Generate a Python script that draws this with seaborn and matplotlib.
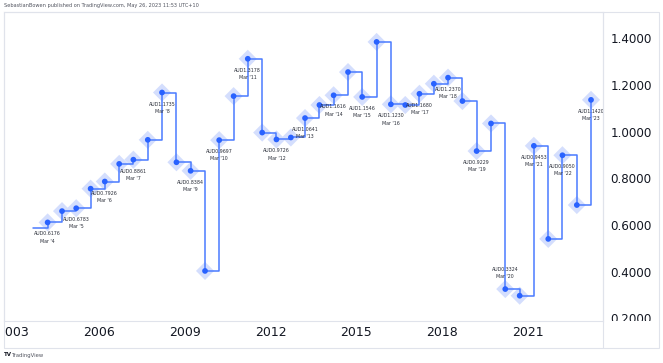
#!/usr/bin/env python3
# -*- coding: utf-8 -*-

import pandas as pd
import matplotlib.pyplot as plt
import matplotlib.transforms as mtransforms
from matplotlib.patches import Rectangle
import seaborn as sns

# ------------------------------------------------------------------------------
# data (half-yearly closes)
# ------------------------------------------------------------------------------

dates = ['2003-09-15', '2004-03-15', '2004-09-15', '2005-03-15', '2005-09-15',
         '2006-03-15', '2006-09-15', '2007-03-15', '2007-09-15', '2008-03-15',
         '2008-09-15', '2009-03-15', '2009-09-15', '2010-03-15', '2010-09-15',
         '2011-03-15', '2011-09-15', '2012-03-15', '2012-09-15', '2013-03-15',
         '2013-09-15', '2014-03-15', '2014-09-15', '2015-03-15', '2015-09-15',
         '2016-03-15', '2016-09-15', '2017-03-15', '2017-09-15', '2018-03-15',
         '2018-09-15', '2019-03-15', '2019-09-15', '2020-03-15', '2020-09-15',
         '2021-03-15', '2021-09-15', '2022-03-15', '2022-09-15', '2023-03-15']

values = [0.592, 0.6176, 0.666, 0.6783, 0.762,
          0.7926, 0.868, 0.8861, 0.971, 1.1735,
          0.875, 0.8384, 0.410, 0.9697, 1.158,
          1.3178, 1.002, 0.9726, 0.981, 1.0641,
          1.120, 1.1616, 1.261, 1.1546, 1.390,
          1.1230, 1.120, 1.1680, 1.211, 1.2370,
          1.137, 0.9229, 1.041, 0.3324, 0.304,
          0.9453, 0.547, 0.9050, 0.692, 1.1420]

# labels sit below the point except these
labels_above = ['2020-03-15']

year_ticks = [2003, 2006, 2009, 2012, 2015, 2018, 2021]
price_ticks = [0.2, 0.4, 0.6, 0.8, 1.0, 1.2, 1.4]

header = 'SebastianBowen published on TradingView.com, May 26, 2023 11:53 UTC+10'

df = pd.DataFrame({'date': pd.to_datetime(dates), 'value': values})

# ------------------------------------------------------------------------------
# figure
# ------------------------------------------------------------------------------

sns.set_style('white')
plt.rcParams['font.family'] = ['DejaVu Sans']

W, H = 663, 363
fig = plt.figure(figsize=(W / 100, H / 100), dpi=100)

def px_rect(x0, y0, x1, y1):
    return [x0 / W, 1 - y1 / H, (x1 - x0) / W, (y1 - y0) / H]

ax = fig.add_axes(px_rect(4, 12, 603, 320.7))
ax_price = fig.add_axes(px_rect(603, 12, 659, 320.7), sharey=ax)
ax_time = fig.add_axes(px_rect(4, 320.7, 603, 348), sharex=ax)

blue = '#2962ff'
line_blue = '#4a7bff'
halo = '#d4defd'
border = '#e0e3eb'
grid = '#f0f3fa'
text_col = '#131722'

# halos, step line, dots
pts = df.iloc[1:]
sns.scatterplot(data=pts, x='date', y='value', marker='D', s=85, color=halo,
                edgecolor='none', ax=ax, zorder=2, legend=False)
sns.lineplot(data=df, x='date', y='value', drawstyle='steps-post', color=line_blue,
             linewidth=1.1, ax=ax, zorder=3, sort=False, estimator=None)
sns.scatterplot(data=pts, x='date', y='value', marker='o', s=17, color=blue,
                edgecolor='none', ax=ax, zorder=4, legend=False)

# value labels on the March points
for d, v in zip(df['date'], df['value']):
    if d.month != 3:
        continue
    txt = f"AUD{v:.4f}\nMar '{d.year % 100}"
    if d.strftime('%Y-%m-%d') in labels_above:
        off, va = (0, 7), 'bottom'
    else:
        off, va = (0, -6.5), 'top'
    ax.annotate(txt, (d, v), xytext=off, textcoords='offset points',
                ha='center', va=va, fontsize=3.4, linespacing=1.55,
                color='#2a2e39', zorder=5, annotation_clip=False,
                clip_on=True, clip_box=ax.bbox)

# axes ranges
ax.set_xlim(pd.Timestamp('2002-09-05'), pd.Timestamp('2023-08-15'))
ax.set_ylim(0.197, 1.518)

tick_dates = pd.to_datetime([f'{y}-01-01' for y in year_ticks])
ax.set_xticks(tick_dates)
ax.set_yticks(price_ticks)
ax.grid(True, color=grid, linewidth=0.8)
ax.tick_params(length=0, labelbottom=False, labelleft=False)
ax.set_xlabel(None)
ax.set_ylabel(None)
for s in ax.spines.values():
    s.set_color(border)
    s.set_linewidth(0.8)

# price scale
ytr = mtransforms.blended_transform_factory(ax_price.transAxes, ax_price.transData)
for v in price_ticks:
    ax_price.text(0.5, v, f'{v:.4f}', transform=ytr, ha='center', va='center',
                  fontsize=8.6, color=text_col, clip_on=True, clip_box=ax_price.bbox)

# time scale
xtr = mtransforms.blended_transform_factory(ax_time.transData, ax_time.transAxes)
for d, y in zip(tick_dates, year_ticks):
    ax_time.text(d, 0.58, str(y), transform=xtr, ha='center', va='center',
                 fontsize=9, color=text_col, clip_on=True, clip_box=ax_time.bbox)

for a in (ax_price, ax_time):
    a.set_xticks([])
    a.set_yticks([])
    a.set_facecolor('none')
    for s in a.spines.values():
        s.set_visible(False)

# outer frame
fig.add_artist(Rectangle((4 / W, 1 - 348 / H), 655 / W, 336 / H, transform=fig.transFigure,
                         fill=False, edgecolor=border, linewidth=0.8))
fig.add_artist(plt.Line2D([603 / W, 603 / W], [1 - 348 / H, 1 - 12 / H],
                          transform=fig.transFigure, color=border, linewidth=0.8))

# header and footer
fig.text(4 / W, 1 - 5 / H, header, fontsize=3.6, color='#50535e', va='center', ha='left')
fig.text(4 / W, 1 - 355 / H, 'TV', fontsize=4, fontweight='bold', color=text_col,
         va='center', ha='left')
fig.text(12 / W, 1 - 355 / H, 'TradingView', fontsize=3.8, color='#50535e',
         va='center', ha='left')

plt.savefig('out.png', dpi=100)
plt.close()
